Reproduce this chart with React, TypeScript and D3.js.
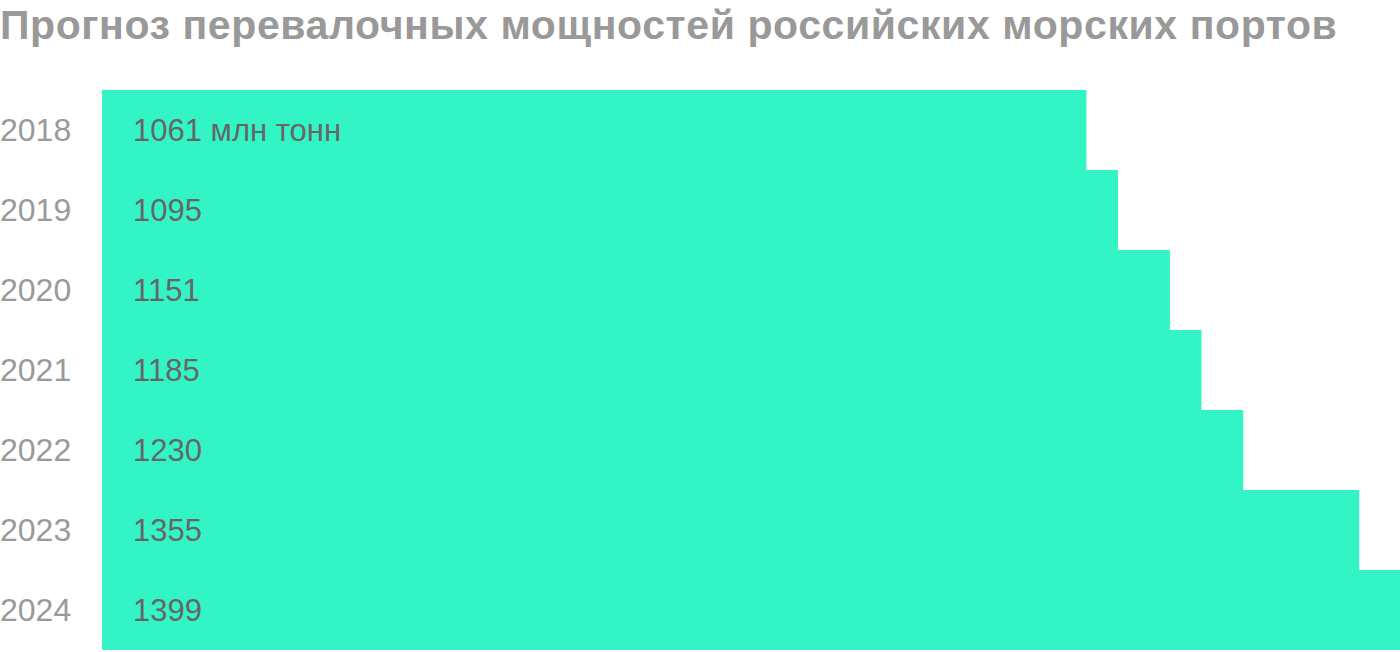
import React from "react";
import * as d3 from "d3";

const years = ["2018", "2019", "2020", "2021", "2022", "2023", "2024"];
const capacity = [1061, 1095, 1151, 1185, 1230, 1355, 1399];
const unitSuffix = " млн тонн";
const title = "Прогноз перевалочных мощностей российских морских портов";

const width = 1400;
const height = 652;
const margin = { top: 90, right: 0, bottom: 2, left: 102 };

function App() {
    const x = d3
        .scaleLinear()
        .domain([0, d3.max(capacity)])
        .range([margin.left, width - margin.right]);

    const y = d3
        .scaleBand()
        .domain(years)
        .range([margin.top, height - margin.bottom])
        .padding(0);

    const font = "'Liberation Sans', Arial, sans-serif";

    return (
        <svg
            width={width}
            height={height}
            style={{ position: "absolute", left: 0, top: 0 }}
        >
            <text
                x={0}
                y={39}
                fontFamily={font}
                fontWeight="bold"
                fontSize={41}
                letterSpacing={0.6}
                fill="#999999"
            >
                {title}
            </text>
            {years.map((yr, i) => (
                <g key={yr}>
                    <rect
                        x={x(0)}
                        y={y(yr)}
                        width={x(capacity[i]) - x(0)}
                        height={y.bandwidth()}
                        fill="#33f4c5"
                    />
                    <text
                        x={0}
                        y={y(yr) + y.bandwidth() / 2 + 11}
                        fontFamily={font}
                        fontSize={32}
                        fill="#9a9a9a"
                    >
                        {yr}
                    </text>
                    <text
                        x={133}
                        y={y(yr) + y.bandwidth() / 2 + 11}
                        fontFamily={font}
                        fontSize={31}
                        fill="#666666"
                    >
                        {capacity[i] + (i === 0 ? unitSuffix : "")}
                    </text>
                </g>
            ))}
        </svg>
    );
}

export default App;
